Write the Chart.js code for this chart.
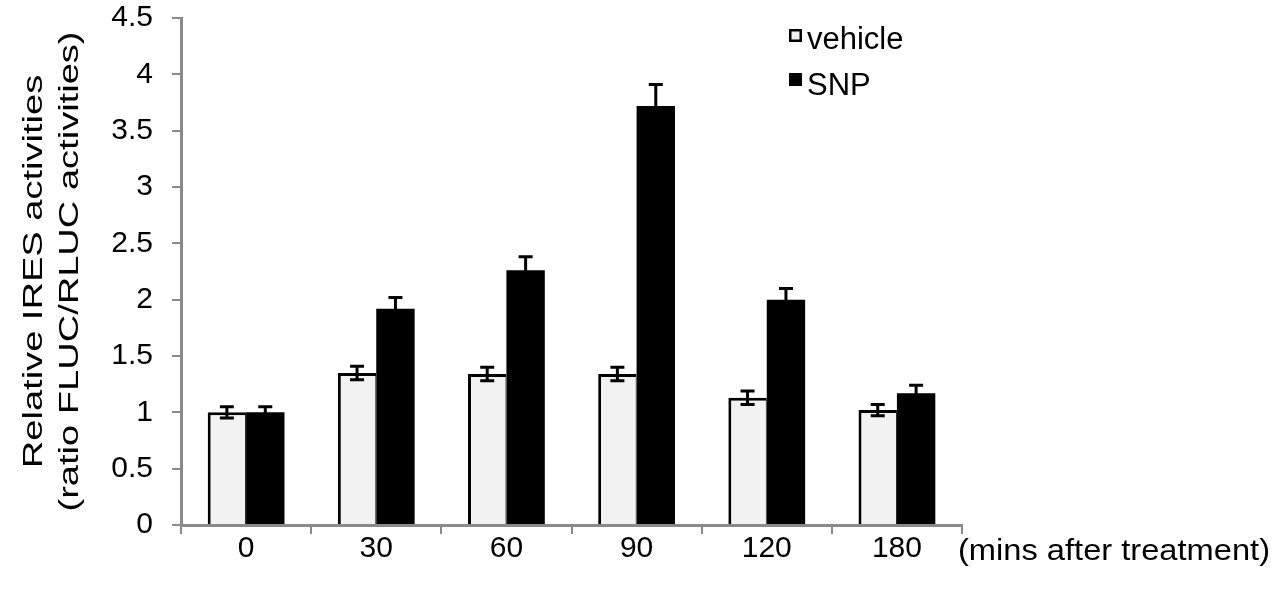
<!DOCTYPE html>
<html>
<head>
<meta charset="utf-8">
<script src="https://cdn.jsdelivr.net/npm/chart.js@4.4.0/dist/chart.umd.min.js"></script>
<style>
html,body{margin:0;padding:0;background:#fff;}
#wrap{width:1285px;height:592px;position:relative;}
</style>
</head>
<body>
<div id="wrap"><canvas id="c" width="1285" height="592"></canvas></div>
<script>
const categories = ['0','30','60','90','120','180'];
const vehicleValues = [1.00, 1.35, 1.34, 1.34, 1.13, 1.02];
const vehicleErrors = [0.05, 0.06, 0.06, 0.06, 0.06, 0.05];
const snpValues = [1.00, 1.92, 2.26, 3.72, 2.00, 1.17];
const snpErrors = [0.05, 0.10, 0.12, 0.19, 0.10, 0.07];
const yTicks = [0, 0.5, 1, 1.5, 2, 2.5, 3, 3.5, 4, 4.5];
const yTitle = ['Relative IRES activities', '(ratio FLUC/RLUC activities)'];
const xTitle = '(mins after treatment)';

const FONT = '"Liberation Sans", Arial, sans-serif';
const AXIS = '#8a8a8a';

const errorBars = {
  id: 'errorBars',
  afterDatasetsDraw(chart) {
    const ctx = chart.ctx;
    const y = chart.scales.y;
    ctx.save();
    ctx.strokeStyle = '#000';
    ctx.lineWidth = 3;
    chart.data.datasets.forEach((ds, di) => {
      const meta = chart.getDatasetMeta(di);
      meta.data.forEach((bar, i) => {
        const v = ds.data[i], e = ds.errors[i];
        const x = bar.x;
        const yt = y.getPixelForValue(v + e);
        const yb = y.getPixelForValue(v - e);
        ctx.beginPath();
        ctx.moveTo(x, yt); ctx.lineTo(x, yb);
        ctx.moveTo(x - 7, yt); ctx.lineTo(x + 7, yt);
        ctx.moveTo(x - 7, yb); ctx.lineTo(x + 7, yb);
        ctx.stroke();
      });
    });
    ctx.restore();
  }
};

const extras = {
  id: 'extras',
  afterDraw(chart) {
    const ctx = chart.ctx;
    const area = chart.chartArea;
    ctx.save();
    ctx.fillStyle = '#000';
    // x title
    ctx.font = '30px ' + FONT;
    ctx.textBaseline = 'alphabetic';
    ctx.textAlign = 'left';
    const w = ctx.measureText(xTitle).width;
    ctx.save();
    ctx.translate(958, 560);
    ctx.scale(312 / w, 1);
    ctx.fillText(xTitle, 0, 0);
    ctx.restore();
    // y title (rotated, centered on plot area)
    ctx.font = '27px ' + FONT;
    ctx.textAlign = 'center';
    const w2 = ctx.measureText(yTitle[1]).width;
    const sx = 480 / w2;
    const baselines = [42, 78];
    const cy = (area.top + area.bottom) / 2;
    yTitle.forEach((t, i) => {
      ctx.save();
      ctx.translate(baselines[i], cy);
      ctx.rotate(-Math.PI / 2);
      ctx.scale(sx, 1);
      ctx.fillText(t, 0, 0);
      ctx.restore();
    });
    // legend
    ctx.textAlign = 'left';
    ctx.font = '31px ' + FONT;
    chart.data.datasets.forEach((ds, i) => {
      const bx = 789, by = 29 + i * 44;
      ctx.fillStyle = ds.backgroundColor;
      ctx.fillRect(bx, by, 13, 13);
      ctx.strokeStyle = '#000';
      ctx.lineWidth = 2.5;
      ctx.strokeRect(bx + 1.25, by + 1.25, 10.5, 10.5);
      ctx.fillStyle = '#000';
      ctx.fillText(ds.label, 807, by + 20 + i * 2);
    });
    ctx.restore();
  }
};

new Chart(document.getElementById('c'), {
  type: 'bar',
  data: {
    labels: categories,
    datasets: [
      {label: 'vehicle', data: vehicleValues, errors: vehicleErrors,
       backgroundColor: '#f2f2f2', borderColor: '#000', borderWidth: {left:3, top:3, right:1, bottom:0},
       borderSkipped: 'bottom', categoryPercentage: 0.59, barPercentage: 1.0},
      {label: 'SNP', data: snpValues, errors: snpErrors,
       backgroundColor: '#000', borderColor: '#000', borderWidth: 0,
       categoryPercentage: 0.59, barPercentage: 1.0}
    ]
  },
  options: {
    responsive: false,
    animation: false,
    devicePixelRatio: 1,
    layout: {padding: {left: 0, right: 323, top: 18, bottom: 0}},
    plugins: {legend: {display: false}, tooltip: {enabled: false}},
    scales: {
      x: {
        offset: true,
        afterFit(s) { s.height = 67; s.paddingTop = 0; },
        border: {color: AXIS, width: 3},
        grid: {offset: true, drawOnChartArea: false, color: AXIS, lineWidth: 2, tickLength: 9},
        ticks: {color: '#000', font: {family: FONT, size: 30}, padding: -3, maxRotation: 0}
      },
      y: {
        min: 0, max: 4.5,
        afterFit(s) { s.width = 181; s.paddingTop = 0; s.paddingBottom = 0; },
        afterBuildTicks(s) { s.ticks = yTicks.map(v => ({value: v})); },
        border: {color: AXIS, width: 3},
        grid: {drawOnChartArea: false, color: AXIS, lineWidth: 2, tickLength: 9},
        ticks: {color: '#000', font: {family: FONT, size: 30}, padding: 19,
                callback: v => String(v)}
      }
    }
  },
  plugins: [errorBars, extras]
});
</script>
</body>
</html>
